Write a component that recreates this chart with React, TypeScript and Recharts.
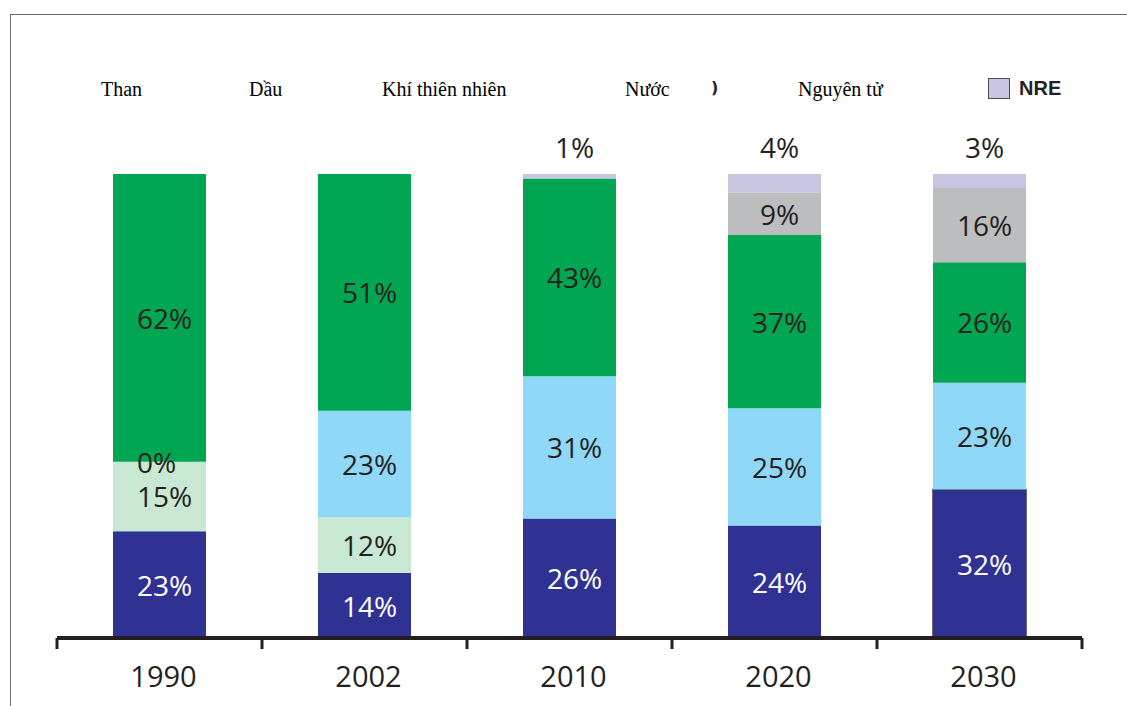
import React from 'react'
import { BarChart, Bar, XAxis, YAxis, LabelList, Cell } from 'recharts'

// years on the x axis
const categories = ['1990', '2002', '2010', '2020', '2030']

// share of each source (%), null = no segment / no label in the original
const than: (number | null)[] = [23, 14, 26, 24, 32]
const dau: (number | null)[] = [15, 12, null, null, null]
const khi: (number | null)[] = [0, 23, 31, 25, 23]
const nuoc: (number | null)[] = [62, 51, 43, 37, 26]
const nguyenTu: (number | null)[] = [null, null, null, 9, 16]
const nre: (number | null)[] = [null, null, 1, 4, 3]

const series = [
  { key: 'than', name: 'Than', values: than, color: '#303293', text: '#ffffff' },
  { key: 'dau', name: 'Dầu', values: dau, color: '#c8e8d4', text: '#231f20' },
  { key: 'khi', name: 'Khí thiên nhiên', values: khi, color: '#8fd8f7', text: '#231f20' },
  { key: 'nuoc', name: 'Nước', values: nuoc, color: '#00a651', text: '#231f20' },
  { key: 'nguyenTu', name: 'Nguyên tử', values: nguyenTu, color: '#bcbdbf', text: '#231f20' },
  { key: 'nre', name: 'NRE', values: nre, color: '#c8c5e2', text: '#231f20' },
]

const W = 1127
const H = 706
const PLOT_LEFT = 57
const PLOT_RIGHT = 1082
const PLOT_TOP = 174
const PLOT_BOTTOM = 638
const BAND = (PLOT_RIGHT - PLOT_LEFT) / categories.length

const data = categories.map((year, i) => {
  const row: Record<string, string | number> = { year }
  series.forEach((s) => {
    row[s.key] = s.values[i] ?? 0
  })
  return row
})

const labelFont = "'Open Sans', 'Noto Sans', sans-serif"

function pctText(cx: number, cy: number, v: number, fill: string, key?: string) {
  return (
    <text
      key={key}
      x={cx}
      y={cy}
      textAnchor="middle"
      dominantBaseline="central"
      fontFamily={labelFont}
      fontSize={28}
      fill={fill}
    >
      {v}%
    </text>
  )
}

function makeLabel(si: number) {
  const s = series[si]
  const above = s.key === 'nre'
  return (props: any) => {
    const { x, y, width, height, value } = props
    const i = categories.indexOf(String(value))
    const v = s.values[i]
    if (v === null || v === undefined || i < 0) return null
    const cx = Number(x) + Number(width) / 2 + 5
    const cy = above ? Number(y) - 27 : Number(y) + Number(height) / 2
    // a zero-valued segment stacked right above has no bar, so its label sits on this top edge
    const next = series[si + 1]
    const zeroAbove = next && next.values[i] === 0
    return (
      <g>
        {pctText(cx, cy, v, above ? '#231f20' : s.text)}
        {zeroAbove && pctText(cx - 8, Number(y), 0, next.text)}
      </g>
    )
  }
}

function YearTick(props: any) {
  const { x, payload, index } = props
  const cx = Number(x)
  return (
    <g>
      <line x1={cx - BAND / 2} x2={cx - BAND / 2} y1={PLOT_BOTTOM} y2={PLOT_BOTTOM + 11} stroke="#231f20" strokeWidth={3} />
      {index === categories.length - 1 && (
        <line x1={cx + BAND / 2} x2={cx + BAND / 2} y1={PLOT_BOTTOM} y2={PLOT_BOTTOM + 11} stroke="#231f20" strokeWidth={3} />
      )}
      <text
        x={cx + 4}
        y={675}
        textAnchor="middle"
        dominantBaseline="central"
        fontFamily={labelFont}
        fontSize={29}
        fill="#231f20"
      >
        {payload.value}
      </text>
    </g>
  )
}

// legend placement as in the original (only NRE has a swatch)
const legendX = [101, 249, 382, 625, 798, 1019]

export default function App() {
  return (
    <div style={{ position: 'absolute', left: 0, top: 0, width: W, height: H, background: '#fff', overflow: 'hidden' }}>
      {/* frame */}
      <div
        style={{
          position: 'absolute',
          left: 10,
          top: 14,
          width: W,
          height: H,
          borderTop: '1.5px solid #6b6b6b',
          borderLeft: '1.5px solid #6b6b6b',
        }}
      />

      {/* legend */}
      {series.map((s, i) =>
        s.key === 'nre' ? (
          <React.Fragment key={s.key}>
            <div
              style={{
                position: 'absolute',
                left: 988,
                top: 78,
                width: 20,
                height: 19,
                background: s.color,
                border: '1.5px solid #4a4a55',
              }}
            />
            <div
              style={{
                position: 'absolute',
                left: legendX[i],
                top: 76,
                fontFamily: "'Liberation Sans', Arial, sans-serif",
                fontWeight: 700,
                fontSize: 20,
                color: '#231f20',
                lineHeight: '24px',
              }}
            >
              {s.name}
            </div>
          </React.Fragment>
        ) : (
          <div
            key={s.key}
            style={{
              position: 'absolute',
              left: legendX[i],
              top: 77,
              fontFamily: "'Liberation Serif', 'Times New Roman', serif",
              fontSize: 20,
              color: '#000',
              lineHeight: '24px',
              whiteSpace: 'nowrap',
            }}
          >
            {s.name}
          </div>
        )
      )}
      <div
        style={{
          position: 'absolute',
          left: 711,
          top: 77,
          fontFamily: "'DejaVu Sans', sans-serif",
          fontWeight: 700,
          fontSize: 16,
          color: '#231f20',
          lineHeight: '22px',
        }}
      >
        )
      </div>

      <div style={{ position: 'absolute', left: 0, top: 0 }}>
        <BarChart
          width={W}
          height={H}
          data={data}
          stackOffset="expand"
          margin={{ top: PLOT_TOP, right: W - PLOT_RIGHT, left: PLOT_LEFT, bottom: H - PLOT_BOTTOM - 40 }}
        >
          <YAxis hide domain={[0, 1]} />
          <XAxis
            dataKey="year"
            height={40}
            axisLine={{ stroke: '#231f20', strokeWidth: 4 }}
            tickLine={false}
            tick={<YearTick />}
            interval={0}
          />
          {series.map((s, si) => (
            <Bar
              key={s.key}
              dataKey={s.key}
              stackId="a"
              fill={s.color}
              barSize={93}
              isAnimationActive={false}
            >
              {s.key === 'than' &&
                categories.map((c, i) => (
                  <Cell
                    key={c}
                    fill={s.color}
                    stroke={i === categories.length - 1 ? '#3a3a44' : 'none'}
                    strokeWidth={1.5}
                  />
                ))}
              <LabelList dataKey="year" content={makeLabel(si)} />
            </Bar>
          ))}
        </BarChart>
      </div>
    </div>
  )
}
